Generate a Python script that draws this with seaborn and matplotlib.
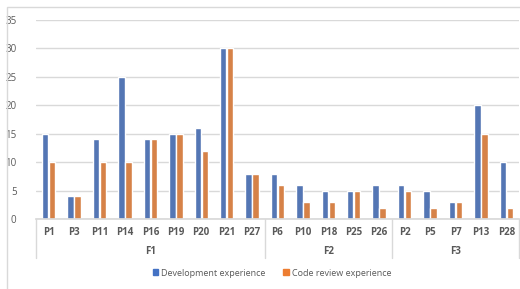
import numpy as np
import pandas as pd
import matplotlib
matplotlib.use("Agg")
import matplotlib.pyplot as plt
import matplotlib.patches as mpatches
import seaborn as sns

# data
groups = ["F1"] * 9 + ["F2"] * 5 + ["F3"] * 5
participants = ["P1", "P3", "P11", "P14", "P16", "P19", "P20", "P21", "P27",
                "P6", "P10", "P18", "P25", "P26",
                "P2", "P5", "P7", "P13", "P28"]
dev_exp = [15, 4, 14, 25, 14, 15, 16, 30, 8,
           8, 6, 5, 5, 6,
           6, 5, 3, 20, 10]
review_exp = [10, 4, 10, 10, 14, 15, 12, 30, 8,
              6, 3, 3, 5, 2,
              5, 2, 3, 15, 2]
series = ["Development experience", "Code review experience"]
colors = ["#4472C4", "#ED7D31"]

df = pd.DataFrame({
    "Participant": participants * 2,
    "Group": groups * 2,
    "Years": dev_exp + review_exp,
    "Series": [series[0]] * len(participants) + [series[1]] * len(participants),
})

sns.set_theme(style="white")
plt.rcParams["font.family"] = ["Open Sans", "DejaVu Sans"]
text_col = "#595959"
grid_col = "#D9D9D9"

fig = plt.figure(figsize=(5.2, 2.89), dpi=100)
ax = fig.add_axes([36 / 520, 1 - 219 / 289, 483 / 520, 199 / 289])

sns.barplot(data=df, x="Participant", y="Years", hue="Series",
            order=participants, hue_order=series, palette=colors,
            width=0.55, gap=0.08, ax=ax, legend=False)

ax.set_ylim(0, 35)
ax.set_yticks(np.arange(0, 36, 5))
ax.set_xlim(-0.5, len(participants) - 0.5)
ax.set_xlabel("")
ax.set_ylabel("")
ax.yaxis.grid(True, color=grid_col, linewidth=1)
ax.set_axisbelow(True)
for s in ["top", "right", "left"]:
    ax.spines[s].set_visible(False)
ax.spines["bottom"].set_color(grid_col)
ax.tick_params(axis="both", length=0, colors=text_col, labelsize=7)
ax.tick_params(axis="y", pad=14)
ax.tick_params(axis="x", pad=6)
for lbl in ax.get_xticklabels():
    lbl.set_fontweight("bold")

# group level of the category axis
trans = ax.get_xaxis_transform()
bounds = [0]
for i in range(1, len(groups)):
    if groups[i] != groups[i - 1]:
        bounds.append(i)
bounds.append(len(groups))
for b in bounds:
    ax.plot([b - 0.5, b - 0.5], [0, -39 / 199], transform=trans,
            color=grid_col, linewidth=1, clip_on=False)
for a, b in zip(bounds[:-1], bounds[1:]):
    ax.text((a + b - 1) / 2, -33 / 199, groups[a], transform=trans,
            ha="center", va="center", fontsize=7, fontweight="bold",
            color=text_col)

handles = [mpatches.Patch(color=c, label=s) for c, s in zip(colors, series)]
fig.legend(handles=handles, loc="center", bbox_to_anchor=(0.523, 1 - 273 / 289),
           ncol=2, frameon=False, fontsize=6.5, handlelength=0.6,
           handleheight=0.6, handletextpad=0.3, columnspacing=2.0,
           labelcolor=text_col)

fig.patches.append(mpatches.Rectangle((7 / 520, -0.1), 1.0, 1.1 - 7 / 289,
                                      transform=fig.transFigure, fill=False,
                                      edgecolor=grid_col, linewidth=1))

fig.savefig("out.png", dpi=100, facecolor="white")
